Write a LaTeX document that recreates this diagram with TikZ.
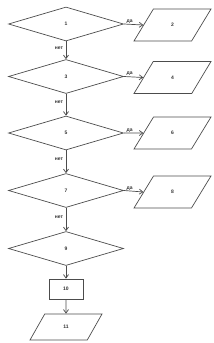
\documentclass[tikz,border=0pt]{standalone}
\usepackage{fontspec}
\setmainfont{Liberation Sans}
\usetikzlibrary{shapes.geometric,arrows.meta}
\begin{document}
\begin{tikzpicture}[x=1pt,y=-1pt,
  line width=0.7pt,
  every node/.style={font=\fontsize{5}{6}\selectfont\bfseries, text=black!80},
  dec/.style={draw=black!70, diamond, inner sep=0pt, minimum width=115pt, minimum height=34pt},
  io/.style={draw=black!70, trapezium, trapezium stretches=true, trapezium left angle=68, trapezium right angle=112, minimum width=77pt, minimum height=32pt, inner sep=0pt},
  io2/.style={draw=black!70, trapezium, trapezium stretches=true, trapezium left angle=62, trapezium right angle=118, minimum width=72pt, minimum height=26pt, inner sep=0pt},
  proc/.style={draw=black!70, rectangle, minimum width=34pt, minimum height=20pt, inner sep=0pt},
  arr/.style={draw=black!70, -{Straight Barb[length=3.5pt,width=5pt]}},
  lbl/.style={inner sep=0.5pt}
]
\useasboundingbox (0,0) rectangle (214,343);
\node[dec] (d1) at (66,24) {1};
\node[dec] (d3) at (66,76.5) {3};
\node[dec] (d5) at (66,133) {5};
\node[dec] (d7) at (66,190.5) {7};
\node[dec] (d9) at (66,248.5) {9};
\node[io] (p2) at (172.5,25) {2};
\node[io] (p4) at (172.5,77.5) {4};
\node[io] (p6) at (172.5,133) {6};
\node[io] (p8) at (172.5,192) {8};
\node[proc] (r10) at (66,289) {10};
\node[io2] (p11) at (66,327) {11};

\draw[arr] (d1.east) -- (p2.west) node[lbl, pos=0.3, above] {да};
\draw[arr] (d3.east) -- (p4.west) node[lbl, pos=0.3, above] {да};
\draw[arr] (d5.east) -- (p6.west) node[lbl, pos=0.3, above] {да};
\draw[arr] (d7.east) -- (p8.west) node[lbl, pos=0.3, above] {да};
\draw[arr] (d1.south) -- (d3.north) node[lbl, pos=0.4, left=2pt] {нет};
\draw[arr] (d3.south) -- (d5.north) node[lbl, pos=0.4, left=2pt] {нет};
\draw[arr] (d5.south) -- (d7.north) node[lbl, pos=0.4, left=2pt] {нет};
\draw[arr] (d7.south) -- (d9.north) node[lbl, pos=0.4, left=2pt] {нет};
\draw[arr] (d9.south) -- (r10.north);
\draw[arr] (r10.south) -- (p11.north);
\end{tikzpicture}
\end{document}
